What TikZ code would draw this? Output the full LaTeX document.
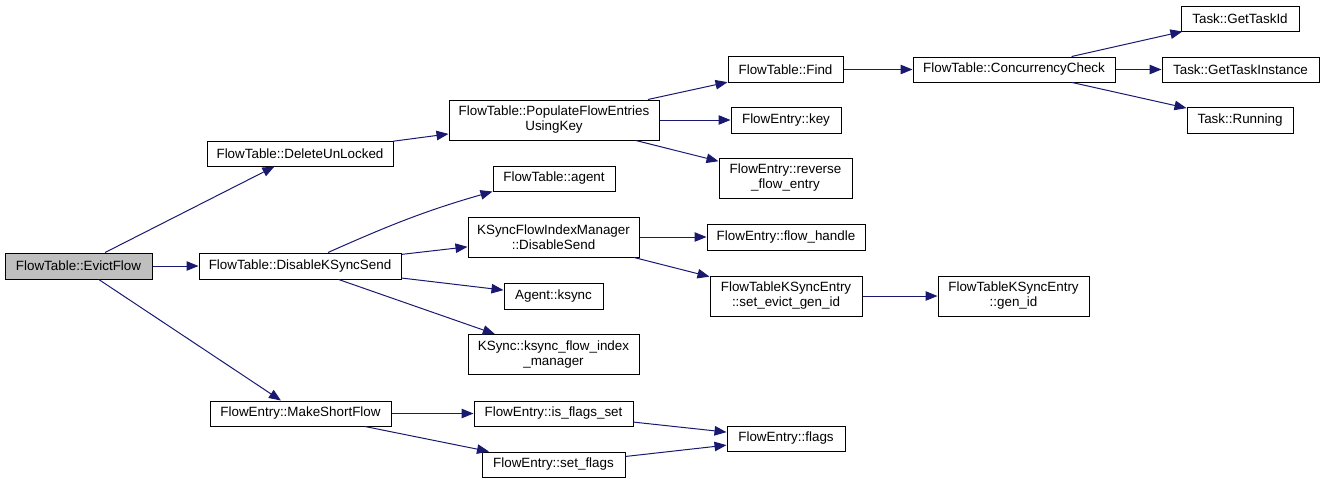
\documentclass[tikz,border=0pt]{standalone}
\usepackage{fontspec}
\setmainfont{Liberation Sans}
\usetikzlibrary{arrows.meta}
\definecolor{edgeblue}{HTML}{191970}
\definecolor{rootgray}{HTML}{BFBFBF}
\begin{document}
\begin{tikzpicture}[x=1pt,y=-1pt,
  fnbox/.style={draw=black, line width=1pt, fill=white, inner sep=0pt, align=center,
    font=\fontsize{13.4}{15}\selectfont, text=black},
  rootbox/.style={fnbox, fill=rootgray},
  calls/.style={draw=edgeblue, line width=1pt, -{Triangle[length=12pt,width=9.5pt]}, edgeblue}]
\useasboundingbox (0,0) rectangle (1324,483);
% column 0
\node[rootbox, minimum width=147pt, minimum height=26pt] (evict) at (78.5,266) {FlowTable::EvictFlow};
% column 1
\node[fnbox, minimum width=186pt, minimum height=25pt] (delun) at (300,153.5) {FlowTable::DeleteUnLocked};
\node[fnbox, minimum width=202pt, minimum height=26pt] (disks) at (300,266) {FlowTable::DisableKSyncSend};
\node[fnbox, minimum width=181pt, minimum height=25pt] (mksf) at (300.5,413.5) {FlowEntry::MakeShortFlow};
% column 2
\node[fnbox, minimum width=210pt, minimum height=40pt] (pop) at (554,120) {FlowTable::PopulateFlowEntries\\UsingKey};
\node[fnbox, minimum width=122pt, minimum height=25pt] (agent) at (554,178.5) {FlowTable::agent};
\node[fnbox, minimum width=171pt, minimum height=40pt] (kfim) at (553.5,237) {KSyncFlowIndexManager\\::DisableSend};
\node[fnbox, minimum width=99pt, minimum height=26pt] (aksync) at (553.5,296) {Agent::ksync};
\node[fnbox, minimum width=171pt, minimum height=40pt] (kfm) at (553.5,354.5) {KSync::ksync\_flow\_index\\\_manager};
\node[fnbox, minimum width=159pt, minimum height=25pt] (isfs) at (553.5,413.5) {FlowEntry::is\_flags\_set};
\node[fnbox, minimum width=143pt, minimum height=25pt] (setf) at (553.5,464.5) {FlowEntry::set\_flags};
% column 3
\node[fnbox, minimum width=115pt, minimum height=26pt] (find) at (785.5,69.5) {FlowTable::Find};
\node[fnbox, minimum width=110pt, minimum height=26pt] (key) at (786,120) {FlowEntry::key};
\node[fnbox, minimum width=133pt, minimum height=40pt] (rev) at (785.5,178) {FlowEntry::reverse\\\_flow\_entry};
\node[fnbox, minimum width=158pt, minimum height=26pt] (fh) at (786,237) {FlowEntry::flow\_handle};
\node[fnbox, minimum width=152pt, minimum height=40pt] (sevg) at (786,296) {FlowTableKSyncEntry\\::set\_evict\_gen\_id};
\node[fnbox, minimum width=118pt, minimum height=25pt] (flags) at (786,438.5) {FlowEntry::flags};
% column 4
\node[fnbox, minimum width=202pt, minimum height=25pt] (cc) at (1014,69.5) {FlowTable::ConcurrencyCheck};
\node[fnbox, minimum width=151pt, minimum height=40pt] (genid) at (1013.5,296) {FlowTableKSyncEntry\\::gen\_id};
% column 5
\node[fnbox, minimum width=118pt, minimum height=25pt] (gtid) at (1240,18.5) {Task::GetTaskId};
\node[fnbox, minimum width=157pt, minimum height=25pt] (gti) at (1240.5,69.5) {Task::GetTaskInstance};
\node[fnbox, minimum width=106pt, minimum height=26pt] (run) at (1240,120) {Task::Running};
% edges
\draw[calls] (evict) -- (delun);
\draw[calls] (evict) -- (disks);
\draw[calls] (evict) -- (mksf);
\draw[calls] (delun) -- (pop);
\draw[calls] ([xshift=28pt]disks.north) to[out=24,in=196] (agent.south west);
\draw[calls] (disks) -- (kfim);
\draw[calls] (disks) -- (aksync);
\draw[calls] (disks) -- (kfm);
\draw[calls] (mksf) -- (isfs);
\draw[calls] (mksf) -- (setf);
\draw[calls] (pop) -- (find);
\draw[calls] (pop) -- (key);
\draw[calls] (pop) -- (rev);
\draw[calls] (kfim) -- (fh);
\draw[calls] (kfim) -- (sevg);
\draw[calls] (sevg) -- (genid);
\draw[calls] (find) -- (cc);
\draw[calls] (cc) -- (gtid);
\draw[calls] (cc) -- (gti);
\draw[calls] (cc) -- (run);
\draw[calls] (isfs) -- (flags);
\draw[calls] (setf) -- (flags);
\end{tikzpicture}
\end{document}
